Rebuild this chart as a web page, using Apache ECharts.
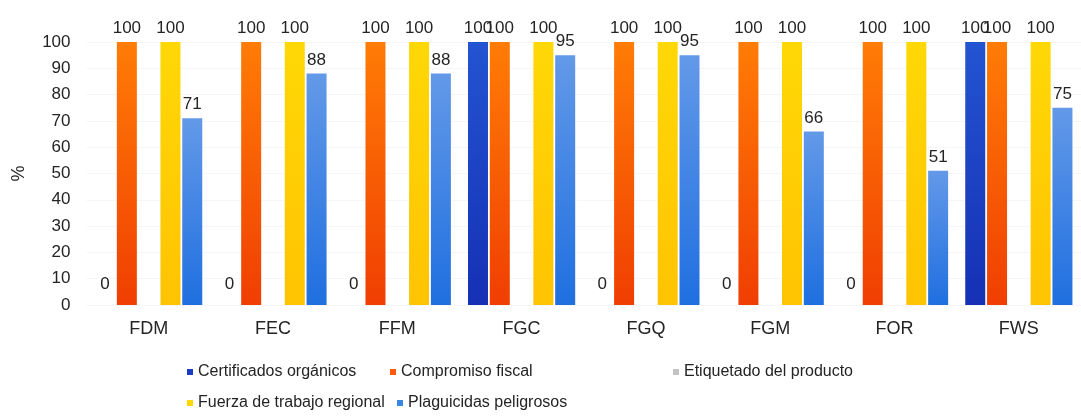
<!DOCTYPE html>
<html>
<head>
<meta charset="utf-8">
<script src="https://cdn.jsdelivr.net/npm/echarts@6/dist/echarts.min.js"></script>
<style>
  html, body { margin: 0; padding: 0; background: #ffffff; }
  #chart { width: 1081px; height: 419px; }
</style>
</head>
<body>
<div id="chart"></div>
<script>
// Farms / organisations on the category axis
const categories = ['FDM', 'FEC', 'FFM', 'FGC', 'FGQ', 'FGM', 'FOR', 'FWS'];

// Share (%) for each indicator
const certificados = [0, 0, 0, 100, 0, 0, 0, 100];
const compromiso   = [100, 100, 100, 100, 100, 100, 100, 100];
const etiquetado   = [null, null, null, null, null, null, null, null];
const fuerza       = [100, 100, 100, 100, 100, 100, 100, 100];
const plaguicidas  = [71, 88, 88, 95, 95, 66, 51, 75];

const seriesNames = [
  'Certificados orgánicos',
  'Compromiso fiscal',
  'Etiquetado del producto',
  'Fuerza de trabajo regional',
  'Plaguicidas peligrosos'
];

const FONT = "'Liberation Sans', Arial, Helvetica, sans-serif";
const TEXT = '#242424';

function grad(top, bottom) {
  return new echarts.graphic.LinearGradient(0, 0, 0, 1, [
    { offset: 0, color: top },
    { offset: 1, color: bottom }
  ]);
}

const styles = [
  { color: grad('#2354d2', '#1530b4'), legend: '#1a3cc0' },
  { color: grad('#ff7c06', '#f03e02'), legend: '#ff5a10' },
  { color: '#c3c3c3', legend: '#c3c3c3' },
  { color: grad('#ffd806', '#ffc302'), legend: '#ffd800' },
  { color: grad('#6399e8', '#1f6fe0'), legend: '#3a86e4' }
];

const values = [certificados, compromiso, etiquetado, fuerza, plaguicidas];

// zero-height bars carry their label a bit higher above the baseline
function toData(arr) {
  return arr.map(v => (v === 0 ? { value: v, label: { distance: 12 } } : v));
}

const series = seriesNames.map((name, i) => ({
  name: name,
  type: 'bar',
  data: toData(values[i]),
  barWidth: 20,
  barGap: '9%',
  itemStyle: { color: styles[i].color },
  label: {
    show: true,
    position: 'top',
    distance: 5,
    color: TEXT,
    fontFamily: FONT,
    fontSize: 17
  }
}));

// one legend block per entry so the two-row layout is kept
const legendPos = [
  { left: 187, top: 364 },
  { left: 390, top: 364 },
  { left: 673, top: 364 },
  { left: 187, top: 395 },
  { left: 397, top: 395 }
];
const legends = seriesNames.map((name, i) => ({
  data: [{ name: name, itemStyle: { color: styles[i].legend } }],
  left: legendPos[i].left,
  top: legendPos[i].top,
  icon: 'rect',
  itemWidth: 6,
  itemHeight: 6,
  padding: 0,
  selectedMode: false,
  textStyle: { color: TEXT, fontFamily: FONT, fontSize: 16 }
}));

const chart = echarts.init(document.getElementById('chart'), null, { renderer: 'canvas' });
chart.setOption({
  animation: false,
  backgroundColor: '#ffffff',
  legend: legends,
  grid: { left: 86.5, top: 42, width: 1000, height: 263, containLabel: false },
  xAxis: {
    type: 'category',
    data: categories,
    axisLine: { show: false },
    axisTick: { show: false },
    axisLabel: { color: TEXT, fontFamily: FONT, fontSize: 18, margin: 15 }
  },
  yAxis: {
    type: 'value',
    min: 0,
    max: 100,
    interval: 10,
    name: '%',
    nameLocation: 'middle',
    nameRotate: 90,
    nameGap: 58,
    nameTextStyle: { color: TEXT, fontFamily: FONT, fontSize: 18 },
    axisLine: { show: false },
    axisTick: { show: false },
    axisLabel: { color: TEXT, fontFamily: FONT, fontSize: 17, margin: 16 },
    splitLine: { show: true, lineStyle: { color: '#f6f6f6', width: 1 } }
  },
  series: series
});
</script>
</body>
</html>
